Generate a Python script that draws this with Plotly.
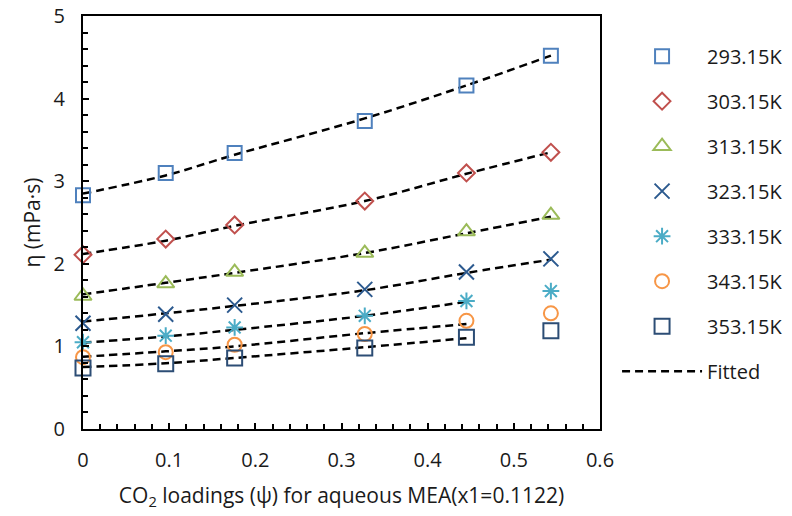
import plotly.graph_objects as go

loading = [0.0, 0.096, 0.176, 0.327, 0.445, 0.543]
temps = ["293.15K", "303.15K", "313.15K", "323.15K", "333.15K", "343.15K", "353.15K"]

eta_293 = [2.83, 3.10, 3.34, 3.73, 4.16, 4.52]
eta_303 = [2.11, 2.30, 2.47, 2.76, 3.10, 3.35]
eta_313 = [1.61, 1.76, 1.90, 2.13, 2.39, 2.59]
eta_323 = [1.28, 1.39, 1.50, 1.69, 1.90, 2.06]
eta_333 = [1.05, 1.13, 1.23, 1.37, 1.55, 1.67]
eta_343 = [0.87, 0.93, 1.02, 1.15, 1.31, 1.40]
eta_353 = [0.74, 0.79, 0.86, 0.98, 1.11, 1.19]
measured = [eta_293, eta_303, eta_313, eta_323, eta_333, eta_343, eta_353]

fit_293 = [2.85, 3.07, 3.32, 3.76, 4.16, 4.52]
fit_303 = [2.12, 2.28, 2.46, 2.76, 3.09, 3.35]
fit_313 = [1.63, 1.77, 1.89, 2.13, 2.37, 2.57]
fit_323 = [1.30, 1.40, 1.49, 1.68, 1.89, 2.05]
fit_333 = [1.045, 1.12, 1.20, 1.37, 1.54]
fit_343 = [0.875, 0.94, 1.00, 1.16, 1.27]
fit_353 = [0.75, 0.795, 0.86, 0.99, 1.10]
fitted = [fit_293, fit_303, fit_313, fit_323, fit_333, fit_343, fit_353]

colors = ["#4F81BD", "#C0504D", "#9BBB59", "#2C5A8F", "#4BACC6", "#F79646", "#2C4D75"]
symbols = ["square-open", "diamond-open", "triangle-up-open", "x-thin-open",
           "asterisk-open", "circle-open", "square-open"]
sizes = [14, 13, 15, 15, 14, 14, 15]

FONT = "'Open Sans', sans-serif"
TXT = "#1a1a1a"

fig = go.Figure()

for i, f in enumerate(fitted):
    fig.add_trace(go.Scatter(
        x=loading[:len(f)], y=f, mode="lines", line_shape="spline",
        line=dict(color="black", width=2.5, dash="8px,5px"),
        name="Fitted", legendgroup="fit", showlegend=(i == 0), legendrank=100,
        hoverinfo="skip"))

for i, (t, y) in enumerate(zip(temps, measured)):
    fig.add_trace(go.Scatter(
        x=loading, y=y, mode="markers", name=t, legendgroup=t, legendrank=i + 1,
        marker=dict(symbol=symbols[i], size=sizes[i], color=colors[i],
                    line=dict(color=colors[i], width=2)),
        cliponaxis=False))

axis_common = dict(showline=True, linecolor="black", linewidth=2, mirror=True,
                   showgrid=False, zeroline=False, ticks="inside", ticklen=6,
                   tickwidth=2, tickcolor="black",
                   tickfont=dict(family=FONT, size=20, color=TXT))

fig.update_xaxes(range=[0, 0.6], dtick=0.1, tickformat="~g", ticklabelstandoff=12,
                 minor=dict(dtick=0.02, ticks="inside", ticklen=5, tickwidth=1.5, tickcolor="black"),
                 title=dict(text="CO<sub>2</sub> loadings (ψ) for aqueous MEA(x1=0.1122)",
                            font=dict(family=FONT, size=21, color=TXT), standoff=16),
                 **axis_common)
fig.update_yaxes(range=[0, 5], dtick=1, ticklabelstandoff=12,
                 minor=dict(dtick=0.2, ticks="inside", ticklen=5, tickwidth=1.5, tickcolor="black"),
                 title=dict(text="η (mPa·s)", font=dict(family=FONT, size=21, color=TXT), standoff=7),
                 **axis_common)

fig.update_layout(
    width=792, height=516,
    margin=dict(l=83, r=192, t=16, b=87, autoexpand=False),
    plot_bgcolor="white", paper_bgcolor="white",
    legend=dict(x=1.033, y=0.95, xanchor="left", yanchor="top",
                font=dict(family=FONT, size=20, color=TXT),
                tracegroupgap=16, bgcolor="rgba(0,0,0,0)", itemwidth=80),
)

fig.write_html("out.html")
